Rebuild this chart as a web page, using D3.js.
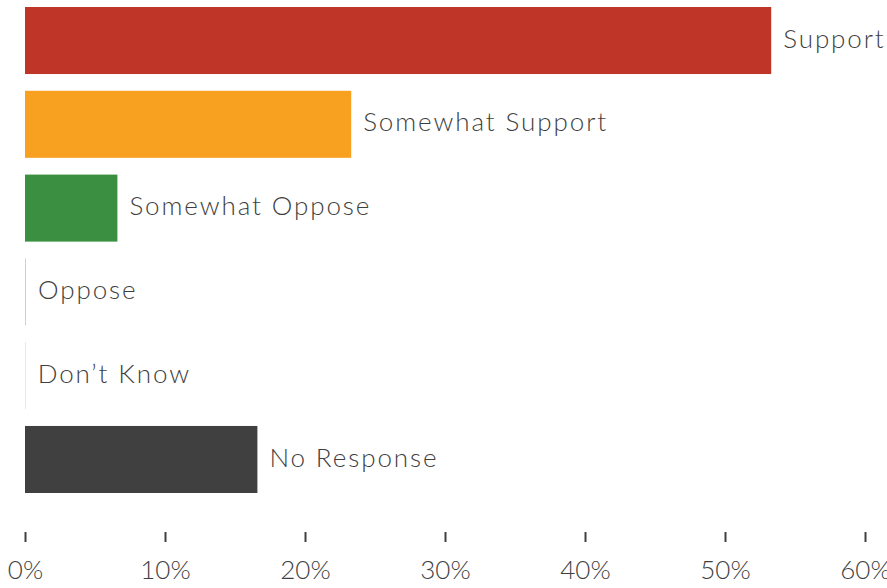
<!DOCTYPE html>
<html>
<head>
<meta charset="utf-8">
<script src="https://cdn.jsdelivr.net/npm/d3@7"></script>
<style>
  body { margin: 0; background: #fff; }
  svg text { font-family: "Lato", "Noto Sans", sans-serif; fill: #3f3f3f; font-weight: 300; }
</style>
</head>
<body>
<svg id="chart" width="887" height="588"></svg>
<script>
// chart data
const categories = ['Support', 'Somewhat Support', 'Somewhat Oppose', 'Oppose', "Don\u2019t Know", 'No Response'];
const values = [53.3, 23.3, 6.6, 0.07, 0.05, 16.6];
const colors = ['#bf3628', '#f8a120', '#3b8f41', '#c3d3e0', '#e2eaf1', '#404040'];
const ticks = [0, 10, 20, 30, 40, 50, 60];

const svg = d3.select('#chart');

const x = d3.scaleLinear().domain([0, 60]).range([25, 865]);
const y = d3.scaleBand()
    .domain(categories)
    .range([7, 493])
    .paddingInner(0.2)
    .paddingOuter(0);

// bars
svg.selectAll('.bar')
    .data(categories)
    .enter()
    .append('rect')
    .attr('class', 'bar')
    .attr('x', x(0))
    .attr('y', d => y(d))
    .attr('height', y.bandwidth())
    .attr('width', (d, i) => Math.max(1, x(values[i]) - x(0)))
    .attr('fill', (d, i) => colors[i]);

// labels next to bars
svg.selectAll('.lbl')
    .data(categories)
    .enter()
    .append('text')
    .attr('class', 'lbl')
    .attr('x', (d, i) => x(values[i]) + 12)
    .attr('y', d => y(d) + y.bandwidth() / 2 - 2)
    .attr('dy', '0.35em')
    .style('font-size', '26px')
    .style('letter-spacing', '1.9px')
    .text(d => d);

// x axis - ticks only
const axis = svg.append('g')
    .attr('transform', 'translate(0,532)')
    .call(d3.axisBottom(x).tickValues(ticks).tickSize(10).tickPadding(19).tickFormat(d => d + '%'));

axis.select('.domain').remove();
axis.selectAll('.tick line').attr('stroke', '#404040').attr('stroke-width', 2);
axis.selectAll('.tick text').style('font-size', '26px').attr('fill', '#3f3f3f');
</script>
</body>
</html>
